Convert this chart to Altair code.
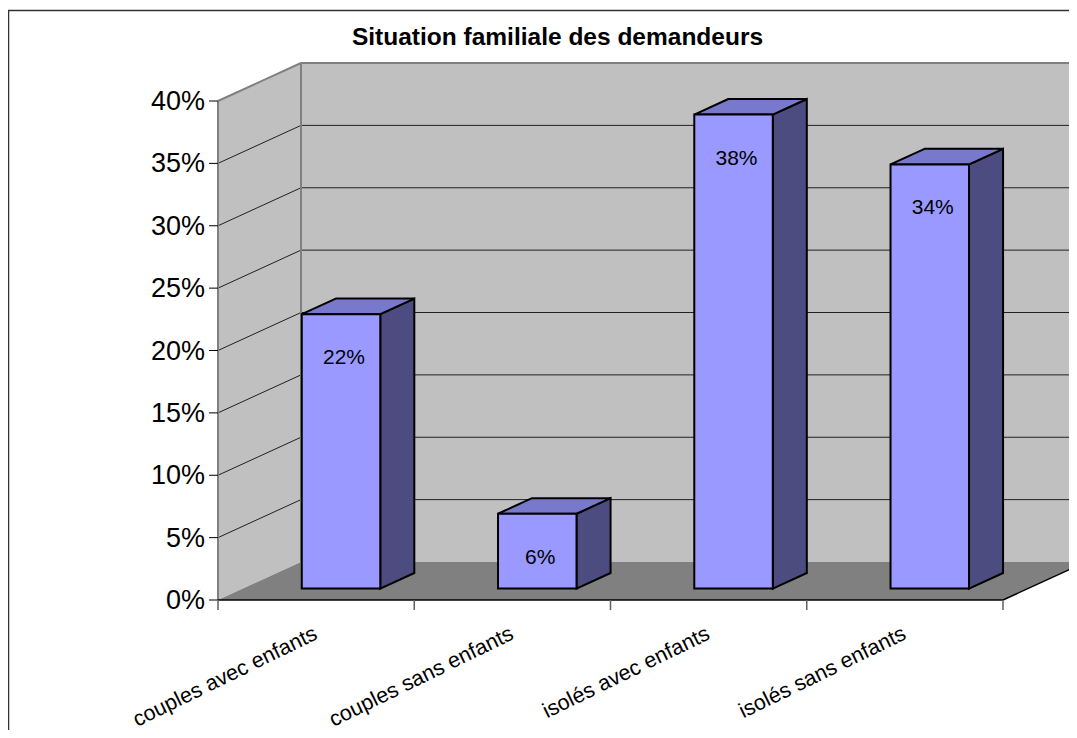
import altair as alt
import pandas as pd

# ---- data ----
categories = ["couples avec enfants", "couples sans enfants", "isolés avec enfants", "isolés sans enfants"]
values = [22, 6, 38, 34]
tick_values = [0, 5, 10, 15, 20, 25, 30, 35, 40]
tick_labels = ["0%", "5%", "10%", "15%", "20%", "25%", "30%", "35%", "40%"]
bar_labels = ["22%", "6%", "38%", "34%"]
title_text = "Situation familiale des demandeurs"

# ---- layout (pseudo-3D projection) ----
W, H = 1061, 722
X0_PX, CAT_PX = 210, 196.25      # front origin and width of one category
Y0_PX, PCT_PX = 592, 12.475      # front 0% and pixels per percent
x_dom = [-X0_PX / CAT_PX, (W - X0_PX) / CAT_PX]
y_dom = [(Y0_PX - H) / PCT_PX, Y0_PX / PCT_PX]
DX = 83 / CAT_PX                 # depth offset, category units
DY = 38 / PCT_PX                 # depth offset, percent units
F0, F1 = 0.30, 0.71              # bar front / back depth
BL, BR = 0.30, 0.70              # bar left / right inside a category
N = len(categories)
YMAX = tick_values[-1]

xs = alt.Scale(domain=x_dom, nice=False, zero=False)
ys = alt.Scale(domain=y_dom, nice=False, zero=False)


def X(f="x"):
    return alt.X(f"{f}:Q", scale=xs, axis=None)


def Y(f="y"):
    return alt.Y(f"{f}:Q", scale=ys, axis=None)


FONT = "Liberation Sans"

# walls and floor
left_wall = pd.DataFrame({"x": [0, DX], "y": [0, DY], "y2": [YMAX, YMAX + DY]})
back_wall = pd.DataFrame({"x": [DX], "x2": [N + DX], "y": [DY], "y2": [YMAX + DY]})
floor = pd.DataFrame({"y": [0, DY], "x": [0, DX], "x2": [N, N + DX]})

l_left = alt.Chart(left_wall).mark_area(orient="vertical", color="#C0C0C0").encode(
    x=X(), y=Y(), y2=alt.Y2("y2"))
l_back = alt.Chart(back_wall).mark_rect(color="#C0C0C0", clip=True).encode(
    x=X(), x2=alt.X2("x2"), y=Y(), y2=alt.Y2("y2"))
l_floor = alt.Chart(floor).mark_area(orient="horizontal", color="#808080", clip=True).encode(
    y=Y(), x=X(), x2=alt.X2("x2"))

# gridlines
grid_rows = []
for v in tick_values[1:-1]:
    grid_rows.append({"x": 0, "y": v, "x2": DX, "y2": v + DY})
    grid_rows.append({"x": DX, "y": v + DY, "x2": N + DX + 0.2, "y2": v + DY})
l_grid = alt.Chart(pd.DataFrame(grid_rows)).mark_rule(color="#202020", strokeWidth=1, clip=True).encode(
    x=X(), y=Y(), x2=alt.X2("x2"), y2=alt.Y2("y2"))

# wall edges (grey)
edges = pd.DataFrame([
    {"x": 0, "y": YMAX, "x2": DX, "y2": YMAX + DY},
    {"x": DX, "y": DY, "x2": DX, "y2": YMAX + DY},
    {"x": DX, "y": YMAX + DY, "x2": N + DX + 0.2, "y2": YMAX + DY},
    {"x": 0, "y": 0, "x2": 0, "y2": YMAX},
])
l_edges = alt.Chart(edges).mark_rule(color="#808080", strokeWidth=2, clip=True).encode(
    x=X(), y=Y(), x2=alt.X2("x2"), y2=alt.Y2("y2"))

# front axis line and floor edge
axis_lines = pd.DataFrame([
    {"x": 0, "y": 0, "x2": N, "y2": 0},
    {"x": N, "y": 0, "x2": N + DX, "y2": DY},
])
l_axis = alt.Chart(axis_lines).mark_rule(color="#000000", strokeWidth=1.5, clip=True).encode(
    x=X(), y=Y(), x2=alt.X2("x2"), y2=alt.Y2("y2"))

# ticks
yt = pd.DataFrame({"x": [0] * len(tick_values), "y": tick_values, "label": tick_labels})
l_yticks = alt.Chart(yt).mark_rule(color="#000000", strokeWidth=1, x2Offset=-9).encode(
    x=X(), x2=alt.X2("x"), y=Y(), y2=alt.Y2("y"))
xt = pd.DataFrame({"x": list(range(N + 1)), "y": [0] * (N + 1)})
l_xticks = alt.Chart(xt).mark_rule(color="#606060", strokeWidth=1.5, y2Offset=10).encode(
    x=X(), x2=alt.X2("x"), y=Y(), y2=alt.Y2("y"))

# bars
front_rows, side_rows, top_rows, lab_rows = [], [], [], []
for i, (c, v) in enumerate(zip(categories, values)):
    front_rows.append({"bar": c, "x": i + BL + F0 * DX, "x2": i + BR + F0 * DX,
                       "y": F0 * DY, "y2": v + F0 * DY})
    for f in (F0, F1):
        side_rows.append({"bar": c, "x": i + BR + f * DX, "y": f * DY, "y2": v + f * DY})
        top_rows.append({"bar": c, "y": v + f * DY, "x": i + BL + f * DX, "x2": i + BR + f * DX})
    lab_rows.append({"x": i + (BL + BR) / 2 + F0 * DX, "y": v + F0 * DY, "label": bar_labels[i]})

l_front = alt.Chart(pd.DataFrame(front_rows)).mark_rect(
    color="#9999FF", stroke="#000000", strokeWidth=2).encode(
    x=X(), x2=alt.X2("x2"), y=Y(), y2=alt.Y2("y2"))
l_side = alt.Chart(pd.DataFrame(side_rows)).mark_area(
    orient="vertical", color="#4C4C80", stroke="#000000", strokeWidth=2, strokeJoin="miter").encode(
    x=X(), y=Y(), y2=alt.Y2("y2"), detail="bar:N")
l_top = alt.Chart(pd.DataFrame(top_rows)).mark_area(
    orient="horizontal", color="#7878CC", stroke="#000000", strokeWidth=2, strokeJoin="miter").encode(
    y=Y(), x=X(), x2=alt.X2("x2"), detail="bar:N")
l_barlab = alt.Chart(pd.DataFrame(lab_rows)).mark_text(
    font=FONT, fontSize=21, color="#000000", baseline="middle", dy=44, dx=3).encode(
    x=X(), y=Y(), text="label:N")

# axis labels
l_ylab = alt.Chart(yt).mark_text(
    font=FONT, fontSize=27, color="#000000", align="right", baseline="middle", dx=-13, dy=1).encode(
    x=X(), y=Y(), text="label:N")
xl = pd.DataFrame({"x": [i + 0.5 for i in range(N)], "y": [0] * N, "label": categories})
l_xlab = alt.Chart(xl).mark_text(
    font=FONT, fontSize=21.5, color="#000000", align="right", baseline="middle",
    angle=334, yOffset=33, xOffset=0).encode(
    x=X(), y=Y(), text="label:N")

# chart frame (top and left border) and title
frame = pd.DataFrame({"k": [0]})
l_frame_top = alt.Chart(frame).mark_rule(color="#333333", strokeWidth=1.5).encode(
    x=alt.value(0), x2=alt.value(W), y=alt.value(2.5))
l_frame_left = alt.Chart(frame).mark_rule(color="#333333", strokeWidth=1.5).encode(
    x=alt.value(0.5), y=alt.value(2), y2=alt.value(H))
l_title = alt.Chart(frame).mark_text(
    font=FONT, fontSize=24.5, fontWeight="bold", color="#000000", align="center", baseline="middle").encode(
    x=alt.value(549.5), y=alt.value(30), text=alt.value(title_text))

chart = alt.layer(
    l_left, l_back, l_floor, l_grid, l_edges, l_axis, l_yticks, l_xticks,
    l_side, l_top, l_front, l_barlab, l_ylab, l_xlab, l_frame_top, l_frame_left, l_title,
).properties(
    width=W, height=H,
    autosize=alt.AutoSizeParams(type="none"),
    padding=0,
    background="#FFFFFF",
).configure_view(stroke=None)

chart.save("out.html", embed_options={"renderer": "svg", "actions": False})
